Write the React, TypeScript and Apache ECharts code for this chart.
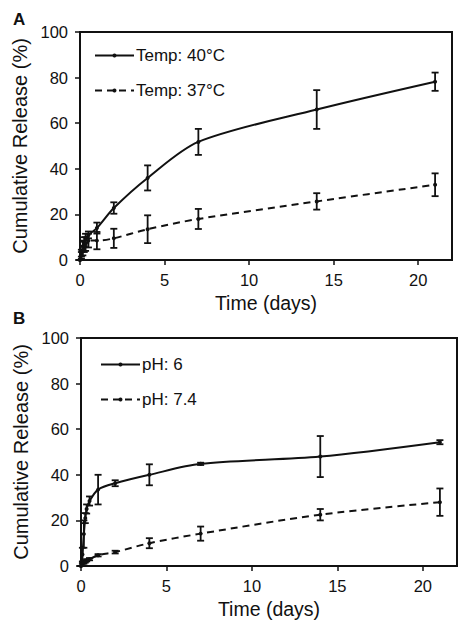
import React, { useEffect, useRef } from "react";
import * as echarts from "echarts";

// Panel A — temperature
const timesA = [0, 0.083, 0.167, 0.25, 0.33, 0.5, 1, 2, 4, 7, 14, 21];
const temp40 = [0, 3, 6, 8, 9.5, 11, 14, 22.8, 36, 51.8, 66, 78.2];
const temp40Err = [0, 1.5, 2, 2, 2, 1.5, 2.4, 2.5, 5.5, 5.7, 8.5, 4];
const temp37 = [0, 2, 4, 6, 7, 8.5, 8.5, 9.5, 13.5, 18, 25.7, 33];
const temp37Err = [0, 1.5, 2, 2.5, 3, 3, 3.8, 4.2, 6.1, 4.4, 3.6, 5];

// Panel B — pH
const timesB = [0, 0.083, 0.167, 0.25, 0.33, 0.5, 1, 2, 4, 7, 14, 21];
const ph6 = [0, 5, 14, 21, 25, 28.5, 33.5, 36.3, 40, 44.8, 48, 54.3];
const ph6Err = [0, 3, 6, 2.2, 2, 2, 6.5, 1.3, 4.6, 0.5, 9, 0.9];
const ph74 = [0, 0.8, 1.5, 2, 2.5, 3, 4.7, 6.1, 10, 14.2, 22.5, 28];
const ph74Err = [0, 0.5, 0.5, 0.5, 0.5, 0.5, 0.5, 0.6, 2.2, 3.1, 2.5, 6];

const xTicks = [0, 5, 10, 15, 20];
const seriesNames = ["Temp: 40°C", "Temp: 37°C", "pH: 6", "pH: 7.4"];

const FONT = "Liberation Sans, Arial, sans-serif";
const INK = "#111";

function pairs(t: number[], v: number[]) {
  return t.map((x, i) => [x, v[i]]);
}
function errData(t: number[], v: number[], e: number[]) {
  return t.map((x, i) => [x, v[i] - e[i], v[i] + e[i]]);
}

const renderErr = (params: any, api: any) => {
  const x = api.value(0);
  const lo = api.coord([x, api.value(1)]);
  const hi = api.coord([x, api.value(2)]);
  const w = 3.5;
  const style = { stroke: INK, lineWidth: 1.8 };
  return {
    type: "group",
    children: [
      { type: "line", shape: { x1: lo[0], y1: lo[1], x2: hi[0], y2: hi[1] }, style },
      { type: "line", shape: { x1: lo[0] - w, y1: lo[1], x2: lo[0] + w, y2: lo[1] }, style },
      { type: "line", shape: { x1: hi[0] - w, y1: hi[1], x2: hi[0] + w, y2: hi[1] }, style },
    ],
  };
};

function xAxis(gridIndex: number) {
  return {
    type: "value",
    gridIndex,
    min: 0,
    max: 22,
    interval: 5,
    name: "Time (days)",
    nameLocation: "middle",
    nameGap: 33,
    nameTextStyle: { fontFamily: FONT, fontSize: 19.5, color: INK },
    axisLine: { show: true, lineStyle: { color: INK, width: 2 } },
    axisTick: { show: true, inside: false, length: 5, customValues: xTicks, lineStyle: { color: INK, width: 1.5 } },
    axisLabel: { customValues: xTicks, fontFamily: FONT, fontSize: 16.5, color: INK, margin: 11 },
    splitLine: { show: false },
  };
}
function yAxis(gridIndex: number) {
  return {
    type: "value",
    gridIndex,
    min: 0,
    max: 100,
    interval: 20,
    name: "Cumulative Release (%)",
    nameLocation: "middle",
    nameGap: 50,
    nameTextStyle: { fontFamily: FONT, fontSize: 20, color: INK },
    axisLine: { show: true, lineStyle: { color: INK, width: 2 } },
    axisTick: { show: true, inside: false, length: 5, lineStyle: { color: INK, width: 1.5 } },
    axisLabel: { fontFamily: FONT, fontSize: 16.5, color: INK, margin: 12 },
    splitLine: { show: false },
  };
}

function lineSeries(name: string, idx: number, data: number[][], dashed: boolean) {
  return {
    type: "line",
    name,
    xAxisIndex: idx,
    yAxisIndex: idx,
    data,
    smooth: 0.3,
    symbol: "circle",
    symbolSize: 4,
    itemStyle: { color: INK },
    lineStyle: { color: INK, width: 2, type: dashed ? [7, 5] : "solid" },
    z: 3,
  };
}
function errSeries(idx: number, data: number[][]) {
  return {
    type: "custom",
    xAxisIndex: idx,
    yAxisIndex: idx,
    data,
    renderItem: renderErr,
    encode: { x: 0, y: [1, 2] },
    silent: true,
    z: 4,
  };
}

export default function App() {
  const ref = useRef<HTMLDivElement>(null);
  useEffect(() => {
    if (!ref.current) return;
    const chart = echarts.init(ref.current, undefined, { renderer: "svg" });
    const legendBase = {
      orient: "vertical",
      itemWidth: 39,
      itemHeight: 5,
      itemGap: 18,
      padding: 0,
      textStyle: { fontFamily: FONT, fontSize: 17, color: INK, padding: [0, 0, 0, -3] },
      selectedMode: false,
    };
    chart.setOption({
      animation: false,
      backgroundColor: "#fff",
      grid: [
        { left: 80, top: 32, width: 372, height: 228, show: true, borderColor: INK, borderWidth: 2, backgroundColor: "transparent" },
        { left: 81, top: 338, width: 376, height: 228, show: true, borderColor: INK, borderWidth: 2, backgroundColor: "transparent" },
      ],
      xAxis: [xAxis(0), xAxis(1)],
      yAxis: [yAxis(0), yAxis(1)],
      legend: [
        { ...legendBase, data: [seriesNames[0], seriesNames[1]], left: 94, top: 47 },
        { ...legendBase, data: [seriesNames[2], seriesNames[3]], left: 100, top: 356 },
      ],
      graphic: [
        { type: "text", left: 13, top: 11, style: { text: "A", fontFamily: FONT, fontSize: 17, fontWeight: "bold", fill: INK } },
        { type: "text", left: 13, top: 310, style: { text: "B", fontFamily: FONT, fontSize: 17, fontWeight: "bold", fill: INK } },
      ],
      series: [
        lineSeries(seriesNames[0], 0, pairs(timesA, temp40), false),
        lineSeries(seriesNames[1], 0, pairs(timesA, temp37), true),
        errSeries(0, errData(timesA, temp40, temp40Err)),
        errSeries(0, errData(timesA, temp37, temp37Err)),
        lineSeries(seriesNames[2], 1, pairs(timesB, ph6), false),
        lineSeries(seriesNames[3], 1, pairs(timesB, ph74), true),
        errSeries(1, errData(timesB, ph6, ph6Err)),
        errSeries(1, errData(timesB, ph74, ph74Err)),
      ],
    });
    return () => chart.dispose();
  }, []);
  return (
    <div
      ref={ref}
      style={{ position: "fixed", left: 0, top: 0, width: 469, height: 633, background: "#fff" }}
    />
  );
}
